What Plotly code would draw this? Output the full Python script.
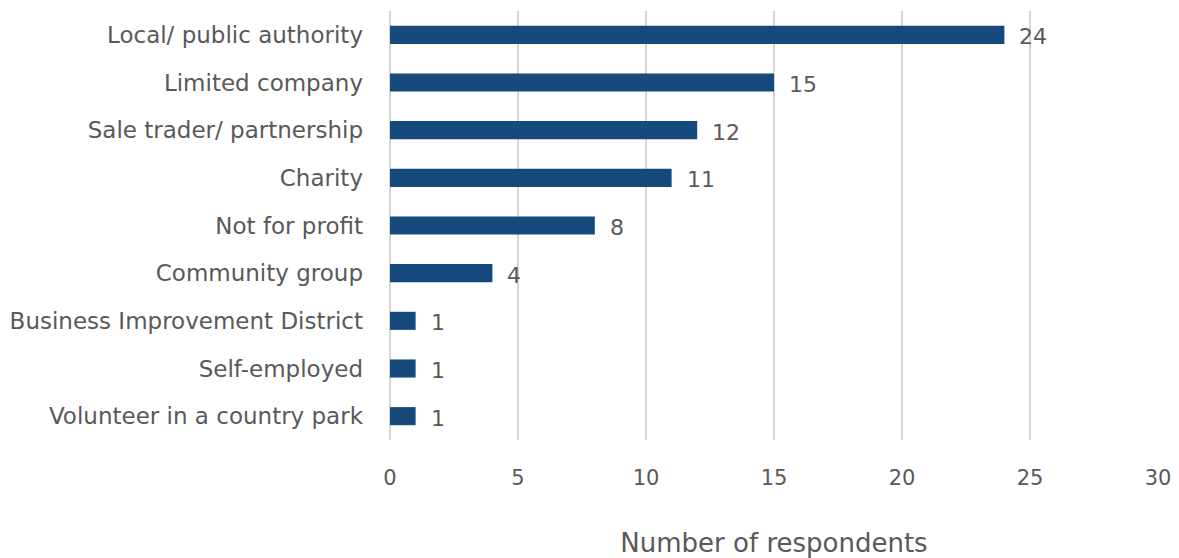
import plotly.graph_objects as go

categories = [
    "Local/ public authority",
    "Limited company",
    "Sale trader/ partnership",
    "Charity",
    "Not for profit",
    "Community group",
    "Business Improvement District",
    "Self-employed",
    "Volunteer in a country park",
]
respondents = [24, 15, 12, 11, 8, 4, 1, 1, 1]
x_ticks = [0, 5, 10, 15, 20, 25, 30]

BAR = "#174a7c"
TEXT = "#595959"
FONT = "DejaVu Sans"

fig = go.Figure(
    go.Bar(
        x=respondents,
        y=categories,
        orientation="h",
        marker=dict(color=BAR, line=dict(width=0)),
        hoverinfo="skip",
    )
)

for cat, val in zip(categories, respondents):
    fig.add_annotation(
        x=val, y=cat, text=str(val), showarrow=False,
        xanchor="left", xshift=13, yshift=-2,
        font=dict(family=FONT, size=22, color=TEXT),
    )

fig.update_layout(
    width=1179, height=558,
    margin=dict(l=390, r=21, t=11, b=118),
    paper_bgcolor="white", plot_bgcolor="white",
    bargap=0.62,
    showlegend=False,
    font=dict(family=FONT, size=20, color=TEXT),
)
fig.update_yaxes(
    autorange="reversed", showgrid=False, zeroline=False, automargin=False,
    ticks="", ticklabelstandoff=26,
    tickfont=dict(family=FONT, size=23, color=TEXT),
)
fig.update_xaxes(
    range=[0, 30], tickvals=x_ticks, showgrid=True, gridcolor="#d6d6d6",
    gridwidth=1.5, zeroline=True, zerolinecolor="#d6d6d6", zerolinewidth=1.5,
    showline=False, ticks="", ticklabelstandoff=23, automargin=False,
    tickfont=dict(family=FONT, size=21, color=TEXT),
    title=dict(text="Number of respondents", standoff=48,
               font=dict(family=FONT, size=26, color=TEXT)),
)

fig.write_html("out.html")
